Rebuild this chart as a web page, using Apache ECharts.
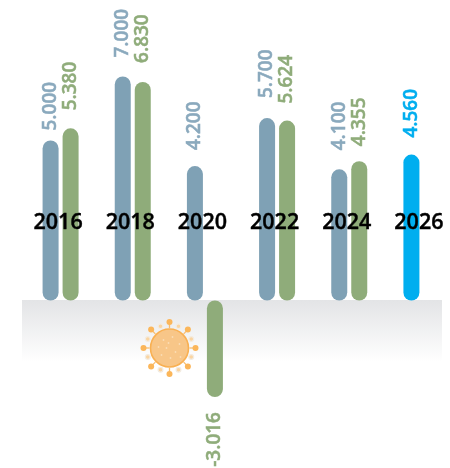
<!DOCTYPE html>
<html><head><meta charset="utf-8">
<style>html,body{margin:0;padding:0;background:#fff}#c{width:450px;height:468px}</style>
<script src="https://cdn.jsdelivr.net/npm/echarts@6/dist/echarts.min.js"></script>
</head><body><div id="c"></div>
<script>
const years = ['2016','2018','2020','2022','2024','2026'];
const planned = [5000,7000,4200,5700,4100,4560];
const actual = [5380,6830,-3016,5624,4355,null];
const BLUE='#7fa1b5', GREEN='#8fac7a', CYAN='#00aeef';
const fmt = v => {
  const a = Math.abs(v), s = Math.floor(a/1000)+'.'+String(a%1000).padStart(3,'0');
  return (v<0?'-':'')+s;
};
const font = '"Open Sans", "Noto Sans", sans-serif';
function labelCfg(color, neg, dist){
  return {show:true, position:neg?'bottom':'top', rotate:90, distance:dist,
    align:neg?'right':'left', verticalAlign:'middle', color:color,
    textBorderColor:color, textBorderWidth:0.5,
    fontFamily:font, fontSize:19, fontWeight:600, formatter:p=>fmt(p.value)};
}
const plannedGap = [10,19,16,20,19,17];
const actualGap = [18,19,15,17,15,0];
// decorative virus icon
const cx=169.5, cy=348, kids=[];
for(let i=0;i<8;i++){
  const t=i*Math.PI/4;
  const x1=cx+Math.sin(t)*20,y1=cy-Math.cos(t)*20,x2=cx+Math.sin(t)*26,y2=cy-Math.cos(t)*26;
  kids.push({type:'line',shape:{x1,y1,x2,y2},style:{stroke:'#f9bd6e',lineWidth:1.3}});
  kids.push({type:'circle',shape:{cx:x2,cy:y2,r:3},style:{fill:'#fbb65a'}});
  const u=t+Math.PI/8;
  kids.push({type:'circle',shape:{cx:cx+Math.sin(u)*23.5,cy:cy-Math.cos(u)*23.5,r:2.4},style:{fill:'#fad5a2',stroke:'#f3ece2',lineWidth:1.2}});
}
kids.push({type:'circle',shape:{cx,cy,r:19},style:{fill:'#f8c688',stroke:'#f9b052',lineWidth:1.6}});
[[-6,-8],[3,-11],[10,-4],[-11,-1],[-3,0],[6,4],[-8,7],[1,10],[11,9],[-1,-5]].forEach(d=>{
  kids.push({type:'circle',shape:{cx:cx+d[0],cy:cy+d[1],r:0.9},style:{fill:'#fbdcb4'}});
});
const chart = echarts.init(document.getElementById('c'),null,{renderer:'canvas'});
chart.setOption({
  animation:false,
  grid:{left:24.5,width:433,top:0.5,height:468,containLabel:false,outerBoundsMode:'none'},
  xAxis:{type:'category',data:years,z:5,
    axisLine:{show:false},axisTick:{show:false},splitLine:{show:false},
    axisLabel:{show:true,margin:-246,verticalAlign:'middle',padding:[0,5,0,0],interval:0,
      color:'#000',textBorderColor:'#000',textBorderWidth:0.4,fontFamily:font,fontSize:21.5,fontWeight:600,hideOverlap:false}},
  yAxis:{type:'value',min:-5250,max:9375,show:false,splitLine:{show:false}},
  graphic:[
    {type:'rect',z:0,shape:{x:22,y:300,width:420,height:62},
     style:{fill:new echarts.graphic.LinearGradient(0,0,0,1,[{offset:0,color:'#e3e4e6'},{offset:1,color:'#ffffff'}])}},
    {type:'group',z:1,children:kids}
  ],
  series:[
    {type:'bar',barWidth:16,barGap:'25%',itemStyle:{color:BLUE,borderRadius:8},z:3,
     data:planned.map((v,i)=>({value:v,
       itemStyle:i===planned.length-1?{color:CYAN}:{color:BLUE},
       label:labelCfg(i===planned.length-1?CYAN:'#8aa9bd',false,plannedGap[i])}))},
    {type:'bar',barWidth:16,itemStyle:{color:GREEN,borderRadius:8},z:3,
     data:actual.map((v,i)=>v===null?null:{value:v,label:labelCfg(GREEN,v<0,v<0?15:actualGap[i])})}
  ]
});
</script></body></html>
